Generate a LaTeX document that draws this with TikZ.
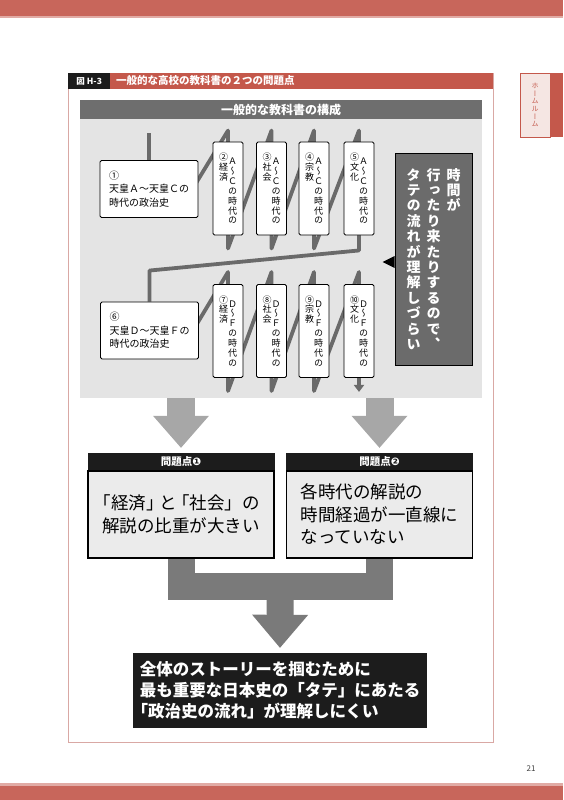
\documentclass[tikz,border=0pt]{standalone}
\usepackage{fontspec}
\setmainfont{Noto Sans CJK JP}
\newfontfamily\tatefont{Noto Sans CJK JP}[RawFeature=+vert]
\newfontfamily\dingfont{DejaVu Sans}
\usetikzlibrary{arrows.meta,positioning}

\definecolor{pagered}{HTML}{C8665B}
\definecolor{titlered}{HTML}{C4584B}
\definecolor{framered}{HTML}{D9A8A4}
\definecolor{tabpink}{HTML}{F5E6E3}
\definecolor{hdrgray}{HTML}{6E6E6E}
\definecolor{panelgray}{HTML}{E4E4E4}
\definecolor{zipgray}{HTML}{6A6A6A}
\definecolor{notegray}{HTML}{6B6B6B}
\definecolor{arrowlight}{HTML}{A7A7A7}
\definecolor{arrowdark}{HTML}{7A7A7A}
\definecolor{boxgray}{HTML}{EBEBEB}
\definecolor{nearblack}{HTML}{1C1C1C}

\pgfdeclarelayer{bg}
\pgfdeclarelayer{lines}
\pgfsetlayers{bg,lines,main}

% tategaki: one character per line
\newcommand\tate[1]{\vtop{\baselineskip=1.1em\lineskiplimit=-1em\lineskip=0pt\tateA#1\relax}}
\def\tateA#1{\ifx\relax#1\else\hbox to 1em{\hss#1\hss}\expandafter\tateA\fi}

\begin{document}
\begin{tikzpicture}[x=1pt, y=1pt,
	zig/.style={draw=zipgray, line width=3.8pt, line join=round},
	textbox/.style={draw=black, fill=white, rounded corners=1.5pt, line width=0.9pt, minimum width=98pt, minimum height=57pt, align=left, font=\fontsize{10}{13.5}\selectfont},
	colbox/.style={draw=black, fill=white, rounded corners=1.5pt, line width=0.9pt, minimum width=30pt, minimum height=93pt, inner sep=0pt, font=\tatefont\fontsize{9}{10}\selectfont},
	probhead/.style={draw=nearblack, fill=nearblack, text=white, minimum width=186pt, minimum height=17pt, inner sep=0pt, font=\bfseries\fontsize{10.5}{12}\selectfont},
	probbody/.style={draw=black, fill=boxgray, line width=1.3pt, minimum width=186pt, minimum height=87pt, inner sep=0pt, align=left, font=\fontsize{17.5}{22.5}\selectfont},
	lightarrow/.style={draw=arrowlight, line width=28pt, -{Triangle[width=56pt,length=32pt,line width=0pt]}},
	darkarrow/.style={draw=arrowdark, line width=27pt, -{Triangle[width=56pt,length=33pt,line width=0pt]}},
	ubar/.style={draw=arrowdark, line width=27pt, line join=miter}]
	\useasboundingbox (0,0) rectangle (563,-800);
	\fill[pagered] (0,0) rectangle (563,-16);
	\fill[pagered!55] (0,-16) rectangle (563,-18.5);
	\fill[pagered!55] (0,-783) rectangle (563,-785.5);
	\fill[pagered] (0,-785.5) rectangle (563,-800);
	\node[font=\fontsize{8}{9}\selectfont, text=black!75] (page) at (531,-769) {21};
	\node[draw=titlered, fill=tabpink, line width=0.8pt, minimum width=30pt, minimum height=64pt, inner sep=0pt, text=titlered, font=\tatefont\fontsize{7}{8}\selectfont] (tab) at (535,-105) {\tate{ホームルーム}};
	\fill[titlered] (tab.north east) rectangle (563,-137);
	%\draw[red] (0,0) grid[step=50] (563,-800);
	\draw[framered, line width=0.8pt] (68,-73) rectangle (493,-742);
	\fill[titlered] (68,-73) rectangle (493,-89);
	\node[fill=nearblack, text=white, anchor=north west, minimum width=42pt, minimum height=16pt, inner sep=0pt, font=\bfseries\fontsize{8.5}{9}\selectfont] (fig) at (68,-73) {図 H-3};
	\node[anchor=west, text=white, inner sep=0pt, font=\bfseries\fontsize{10.5}{12}\selectfont] (title) at (116,-81) {一般的な高校の教科書の２つの問題点};
	\node[fill=hdrgray, text=white, anchor=north west, minimum width=402pt, minimum height=19pt, inner sep=0pt, font=\bfseries\fontsize{12}{14}\selectfont] (head) at (80,-100) {一般的な教科書の構成};
	\begin{pgfonlayer}{bg}
		\node[fill=panelgray, anchor=north west, minimum width=402pt, minimum height=279pt, inner sep=0pt] (panel) at (80,-119) {};
	\end{pgfonlayer}
	\node[textbox] (b1) at (149,-189) {①\\天皇Ａ～天皇Ｃの\\時代の政治史};
	\node[textbox] (b6) at (149.5,-330.5) {⑥\\天皇Ｄ～天皇Ｆの\\時代の政治史};
	\node[colbox] (c2) at (228,-188.5) {\tate{②経済}\raisebox{-4pt}{\tate{Ａ～Ｃの時代の}}};
	\node[colbox] (c3) at (271.5,-188.5) {\tate{③社会}\raisebox{-4pt}{\tate{Ａ～Ｃの時代の}}};
	\node[colbox] (c4) at (314,-188.5) {\tate{④宗教}\raisebox{-4pt}{\tate{Ａ～Ｃの時代の}}};
	\node[colbox] (c5) at (359,-188.5) {\tate{⑤文化}\raisebox{-4pt}{\tate{Ａ～Ｃの時代の}}};
	\node[colbox] (c7) at (228,-331) {\tate{⑦経済}\raisebox{-4pt}{\tate{Ｄ～Ｆの時代の}}};
	\node[colbox] (c8) at (271.5,-331) {\tate{⑧社会}\raisebox{-4pt}{\tate{Ｄ～Ｆの時代の}}};
	\node[colbox] (c9) at (314,-331) {\tate{⑨宗教}\raisebox{-4pt}{\tate{Ｄ～Ｆの時代の}}};
	\node[colbox] (c10) at (359,-331) {\tate{⑩文化}\raisebox{-4pt}{\tate{Ｄ～Ｆの時代の}}};
	\node[draw=black, fill=notegray, line width=0.9pt, minimum width=77pt, minimum height=212pt, inner sep=0pt, text=white, font=\tatefont\bfseries\fontsize{14}{15}\selectfont] (note) at (433.5,-259) {\tate{タテの流れが理解しづらい}\hspace{6pt}\tate{行ったり来たりするので、}\hspace{6pt}\tate{時間が}};
	\fill ([yshift=3pt]note.west) -- ++(-12,-6) -- ++(12,-6) -- cycle;
	\node[probhead] (h1) at (181,-461.5) {問題点{\dingfont ❶}};
	\node[probbody, below=0pt of h1] (p1) {\kern-.5em「経済」\kern-.25em と\kern-.25em「社会」の\\解説の比重が大きい};
	\node[probhead] (h2) at (379.5,-461.5) {問題点{\dingfont ❷}};
	\node[probbody, below=0pt of h2] (p2) {各時代の解説の\\時間経過が一直線に\\なっていない};
	\node[fill=nearblack, minimum width=294pt, minimum height=75pt, inner sep=0pt, align=left, text=white, font=\bfseries\fontsize{16.5}{21}\selectfont] (goal) at (280,-690.5) {全体のストーリーを掴むために\\最も重要な日本史の「タテ」にあたる\\\kern-.5em「政治史の流れ」が理解しにくい};
	\begin{pgfonlayer}{lines}
		\draw[zig] (b1.north) -- ++(0,27);
		\draw[zig] ([xshift=-6pt]b1.east) -- ([yshift=11pt]c2.north) -- ([yshift=-13pt]c2.south) -- ([yshift=11pt]c3.north) -- ([yshift=-13pt]c3.south) -- ([yshift=11pt]c4.north) -- ([yshift=-13pt]c4.south) -- ([yshift=11pt]c5.north) -- ([yshift=-15pt]c5.south) -- ([yshift=31pt]b6.north) -- (b6.north);
		\draw[zig, -{Triangle[width=10pt,length=7pt]}] ([xshift=-6pt]b6.east) -- ([yshift=12pt]c7.north) -- ([yshift=-13pt]c7.south) -- ([yshift=12pt]c8.north) -- ([yshift=-13pt]c8.south) -- ([yshift=12pt]c9.north) -- ([yshift=-13pt]c9.south) -- ([yshift=12pt]c10.north) -- ([yshift=-14pt]c10.south);
		\draw[lightarrow] (panel.south -| h1.north) -- ([yshift=5pt]h1.north);
		\draw[lightarrow] (panel.south -| h2.north) -- ([yshift=5pt]h2.north);
		\draw[ubar] (p1.south) -- ++(0,-28) -| (p2.south);
		\path (p1.south) -- (p2.south) coordinate[pos=.5] (mid);
		\draw[darkarrow] ([yshift=-28pt]mid) -- ([yshift=5pt]goal.north);
	\end{pgfonlayer}
\end{tikzpicture}
\end{document}
